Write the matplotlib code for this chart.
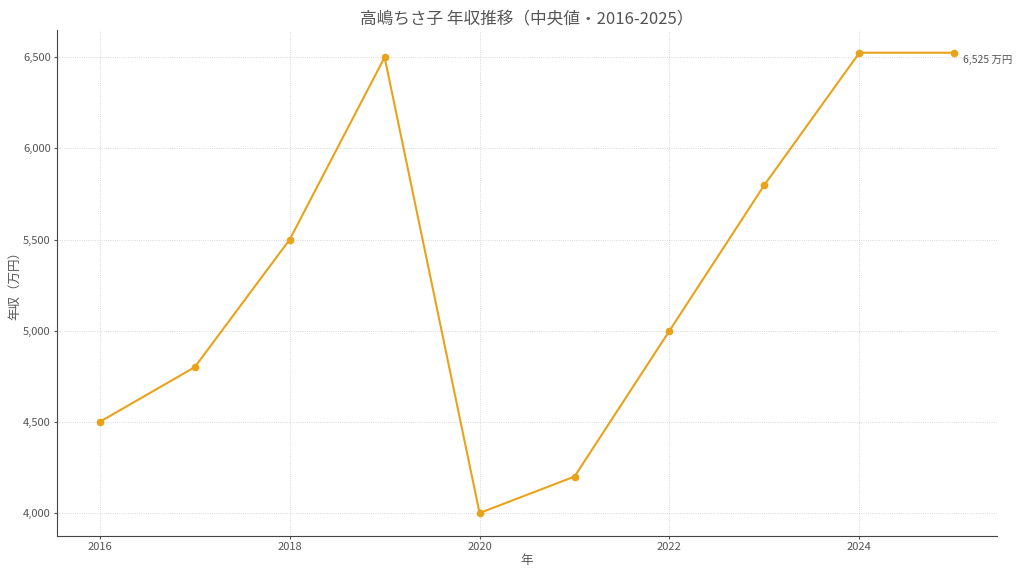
import matplotlib
matplotlib.use('Agg')
import matplotlib.pyplot as plt
from matplotlib.ticker import FuncFormatter

plt.rcParams['font.family'] = ['Noto Sans CJK JP', 'DejaVu Sans']

# データ
years = [2016, 2017, 2018, 2019, 2020, 2021, 2022, 2023, 2024, 2025]
income = [4500, 4800, 5500, 6500, 4000, 4200, 5000, 5800, 6525, 6525]

line_color = '#E8A31A'
text_color = '#555555'

fig = plt.figure(figsize=(10.24, 5.76), dpi=100)
ax = fig.add_axes([0.0557, 0.0694, 0.918, 0.879])

ax.plot(years, income, color=line_color, linewidth=1.5, marker='o', markersize=4.5)

ax.annotate(f'{income[-1]:,} 万円', xy=(years[-1], income[-1]), xytext=(6, -5),
            textcoords='offset points', va='center', ha='left', fontsize=7.5, color=text_color)

ax.set_title('高嶋ちさ子 年収推移（中央値・2016-2025）', fontsize=12, color=text_color, pad=4)
ax.set_xlabel('年', fontsize=9, color=text_color, labelpad=1)
ax.set_ylabel('年収（万円）', fontsize=9, color=text_color, labelpad=1)

ax.set_xticks([2016, 2018, 2020, 2022, 2024])
ax.yaxis.set_major_formatter(FuncFormatter(lambda v, p: f'{int(v):,}'))
ax.tick_params(labelsize=8, colors=text_color, length=2.5, pad=2)

ax.grid(True, linestyle=':', linewidth=0.6, color='#cccccc')
ax.spines['top'].set_visible(False)
ax.spines['right'].set_visible(False)
ax.spines['left'].set_color('#444444')
ax.spines['bottom'].set_color('#444444')

fig.savefig('out.png', dpi=100)
